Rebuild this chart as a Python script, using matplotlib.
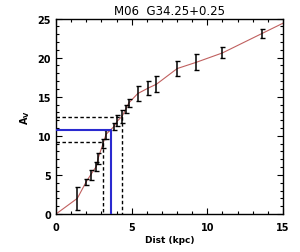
import matplotlib
matplotlib.use("Agg")
import matplotlib.pyplot as plt
from matplotlib.ticker import MultipleLocator

plt.rcParams["font.family"] = "DejaVu Sans"

# extinction vs distance points
dist = [1.41, 1.99, 2.29, 2.67, 2.78, 3.11, 3.31, 3.84, 4.06, 4.37, 4.61, 4.81,
        5.40, 6.09, 6.64, 8.01, 9.27, 11.0, 13.63]
av = [2.0, 4.1, 5.0, 6.1, 7.1, 9.0, 10.2, 11.2, 11.9, 12.5, 13.4, 14.2,
      15.4, 16.1, 16.6, 18.6, 19.4, 20.6, 23.1]
av_err = [1.45, 0.35, 0.6, 0.6, 0.7, 0.55, 0.55, 0.4, 0.7, 0.8, 0.5, 0.5,
          1.0, 0.9, 1.0, 1.0, 1.0, 0.7, 0.6]

# red curve end points
curve_start = (0.0, 0.0)
curve_end = (15.0, 24.4)

# solution and bounds
av_best, d_best = 10.73, 3.64
av_lo, d_lo = 9.24, 3.11
av_hi, d_hi = 12.35, 4.37

fig = plt.figure(figsize=(3.0, 2.53), dpi=100)
ax = fig.add_axes([56 / 300, 1 - 215 / 253, (283 - 56) / 300, (215 - 19.5) / 253])

cx = [curve_start[0]] + dist + [curve_end[0]]
cy = [curve_start[1]] + av + [curve_end[1]]
ax.plot(cx, cy, color="#c0605f", lw=0.8, zorder=2)
ax.errorbar(dist, av, yerr=av_err, fmt="none", ecolor="black", elinewidth=1.1,
            capsize=1.8, capthick=1.0, zorder=3)

ax.plot([0, d_hi, d_hi], [av_hi, av_hi, 0], color="black", ls=(0, (2.5, 1.8)), lw=1.0, zorder=4)
ax.plot([0, d_lo, d_lo], [av_lo, av_lo, 0], color="black", ls=(0, (2.5, 1.8)), lw=1.0, zorder=4)
ax.plot([0, d_best, d_best], [av_best, av_best, 0], color="#2a2ad0", lw=1.5, zorder=5)

ax.set_xlim(0, 15)
ax.set_ylim(0, 25)
ax.xaxis.set_major_locator(MultipleLocator(5))
ax.xaxis.set_minor_locator(MultipleLocator(1))
ax.yaxis.set_major_locator(MultipleLocator(5))
ax.yaxis.set_minor_locator(MultipleLocator(1))
ax.tick_params(which="both", direction="in", top=True, right=True, labelsize=7, width=0.8)
ax.tick_params(which="major", length=4)
ax.tick_params(which="minor", length=2)
ax.tick_params(axis="x", pad=6)
for lab in ax.get_xticklabels() + ax.get_yticklabels():
    lab.set_fontweight("bold")
for s in ax.spines.values():
    s.set_linewidth(1.0)

ax.set_title("M06  G34.25+0.25", fontsize=8.5, pad=3)
ax.set_xlabel("Dist (kpc)", fontsize=6.5, fontweight="bold", labelpad=2)
ax.set_ylabel(r"A$_\mathbf{V}$", fontsize=7, fontweight="bold", labelpad=4)

fig.savefig("out.png", dpi=100)
